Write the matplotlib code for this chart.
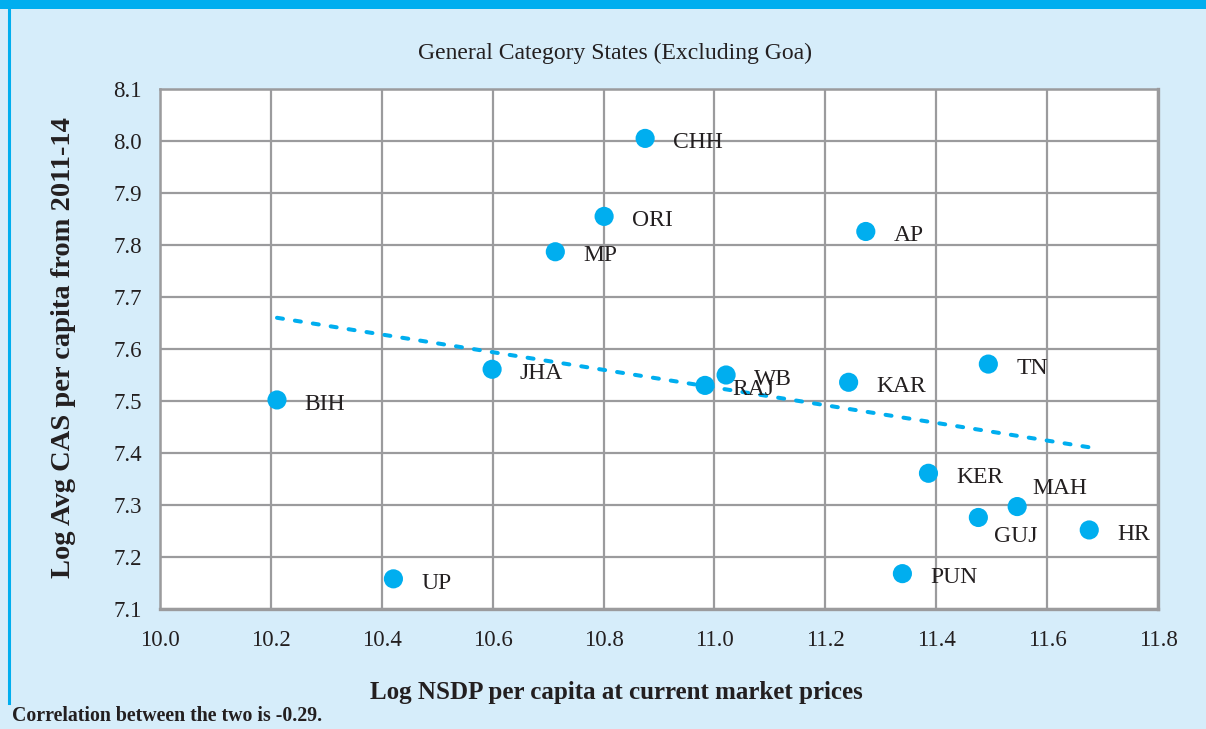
import numpy as np
import matplotlib
matplotlib.use("Agg")
import matplotlib.pyplot as plt
from matplotlib.patches import Rectangle
from matplotlib.lines import Line2D

states = ["CHH", "ORI", "MP", "AP", "JHA", "BIH", "RAJ", "WB", "KAR", "TN",
          "KER", "MAH", "GUJ", "HR", "PUN", "UP"]
log_nsdp = [10.875, 10.801, 10.713, 11.273, 10.599, 10.211, 10.983, 11.021,
            11.242, 11.494, 11.386, 11.546, 11.476, 11.676, 11.339, 10.421]
log_cas = [8.005, 7.855, 7.787, 7.826, 7.561, 7.502, 7.530, 7.550,
           7.536, 7.571, 7.361, 7.297, 7.276, 7.252, 7.168, 7.158]
x_ticks = [10.0, 10.2, 10.4, 10.6, 10.8, 11.0, 11.2, 11.4, 11.6, 11.8]
y_ticks = [7.1, 7.2, 7.3, 7.4, 7.5, 7.6, 7.7, 7.8, 7.9, 8.0, 8.1]

label_offsets = {"MAH": (11, 13), "GUJ": (11, -14)}

BLUE = "#00AEEF"
BG = "#D6EDFA"
GRID = "#9B9B9D"

plt.rcParams["font.family"] = ["Liberation Serif", "DejaVu Serif"]

fig = plt.figure(figsize=(12.06, 7.29), dpi=100)
fig.patch.set_facecolor(BG)

# top bar and left border
fig.add_artist(Rectangle((0, 1 - 9 / 729), 1, 9 / 729, transform=fig.transFigure,
                         facecolor=BLUE, edgecolor="none"))
fig.add_artist(Line2D([9 / 1206, 9 / 1206], [1 - 9 / 729, 1 - 703 / 729],
                      transform=fig.transFigure, color=BLUE, linewidth=2.2))

ax = fig.add_axes([160 / 1206, 1 - 609 / 729, (1158 - 160) / 1206, (609 - 89) / 729])
ax.set_facecolor("white")
ax.set_xlim(10.0, 11.8)
ax.set_ylim(7.1, 8.1)
ax.set_xticks(x_ticks)
ax.set_yticks(y_ticks)
ax.set_xticklabels([f"{v:.1f}" for v in x_ticks])
ax.set_yticklabels([f"{v:.1f}" for v in y_ticks])
ax.tick_params(length=0, labelsize=16.5, colors="#231F20")
ax.tick_params(axis="x", pad=15)
ax.tick_params(axis="y", pad=13)
ax.grid(True, color=GRID, linewidth=1.6)
ax.set_axisbelow(True)
for s in ax.spines.values():
    s.set_color(GRID)
    s.set_linewidth(1.8)
ax.spines["bottom"].set_linewidth(2.4)
ax.spines["right"].set_linewidth(2.4)

x = np.array(log_nsdp)
y = np.array(log_cas)
slope, intercept = np.polyfit(x, y, 1)
xs = np.array([x.min(), x.max()])
ax.plot(xs, slope * xs + intercept, color=BLUE, linewidth=2.9,
        linestyle=(0, (1.5, 3.0)), dash_capstyle="round", zorder=2)

ax.scatter(x, y, s=190, color=BLUE, edgecolors="none", zorder=3)

for name, xi, yi in zip(states, log_nsdp, log_cas):
    off = label_offsets.get(name, (20, -3))
    ax.annotate(name, (xi, yi), xytext=off, textcoords="offset points",
                ha="left", va="center", fontsize=17, color="#231F20", zorder=4)

fig.text(615 / 1206, 1 - 53 / 729, "General Category States (Excluding Goa)",
         ha="center", va="center", fontsize=17, color="#231F20")
fig.text(64 / 1206, 1 - 348 / 729, "Log Avg CAS per capita from 2011-14",
         ha="center", va="center", rotation=90, fontsize=20.5, fontweight="bold",
         color="#231F20")
fig.text(616 / 1206, 1 - 693 / 729, "Log NSDP per capita at current market prices",
         ha="center", va="center", fontsize=18, fontweight="bold", color="#231F20")
fig.text(12 / 1206, 1 - 716 / 729, "Correlation between the two is -0.29.",
         ha="left", va="center", fontsize=14.3, fontweight="bold", color="#231F20")

fig.savefig("out.png", dpi=100, facecolor=fig.get_facecolor())
